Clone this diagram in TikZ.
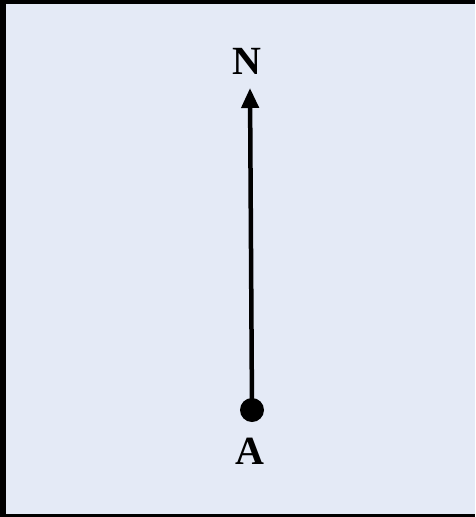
\documentclass[tikz,border=0pt]{standalone}
\usepackage{fontspec}
\setmainfont{Liberation Serif}
\usetikzlibrary{arrows.meta}
\definecolor{bgblue}{RGB}{228,234,246}
\tikzset{
  lbl/.style={font=\fontsize{40}{40}\selectfont\bfseries, inner sep=0pt},
  northarrow/.style={line width=4.5pt, -{Triangle[width=17pt,length=20pt]}},
}
\begin{document}
\begin{tikzpicture}[x=1pt,y=-1pt]
\useasboundingbox (0,0) rectangle (475,517);
\fill[bgblue] (0,0) rectangle (475,517);
\fill[black] (0,0) rectangle (6,517);
\fill[black] (0,0) rectangle (475,4);
\fill[black] (0,514) rectangle (475,517);
\coordinate (tip) at (250,88);
\node[circle, fill=black, minimum size=24pt, inner sep=0pt] (dot) at (252,410) {};
\draw[northarrow] (dot.center) -- (tip);
\node[lbl] (N) at (247,61) {N};
\node[lbl] (A) at (250,451) {A};
\end{tikzpicture}
\end{document}
